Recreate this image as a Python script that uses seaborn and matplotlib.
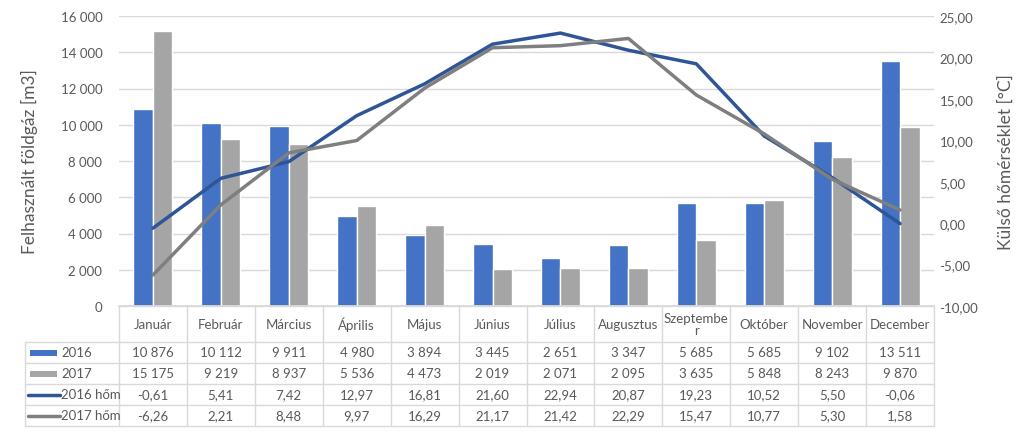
import numpy as np
import pandas as pd
import matplotlib
matplotlib.use("Agg")
import matplotlib.pyplot as plt
import matplotlib.transforms as mtrans
from matplotlib.lines import Line2D
from matplotlib.patches import Rectangle
import seaborn as sns

months = ["Január", "Február", "Március", "Április", "Május", "Június", "Július",
          "Augusztus", "Szeptember", "Október", "November", "December"]
gas_2016 = [10876, 10112, 9911, 4980, 3894, 3445, 2651, 3347, 5685, 5685, 9102, 13511]
gas_2017 = [15175, 9219, 8937, 5536, 4473, 2019, 2071, 2095, 3635, 5848, 8243, 9870]
temp_2016 = [-0.61, 5.41, 7.42, 12.97, 16.81, 21.60, 22.94, 20.87, 19.23, 10.52, 5.50, -0.06]
temp_2017 = [-6.26, 2.21, 8.48, 9.97, 16.29, 21.17, 21.42, 22.29, 15.47, 10.77, 5.30, 1.58]
series_names = ["2016", "2017", "2016 hőm", "2017 hőm"]

C_B16 = "#4472C4"
C_B17 = "#A5A5A5"
C_L16 = "#2F5597"
C_L17 = "#7F7F7F"
TXT = "#595959"
GRID = "#D9D9D9"
FS = 9.5

sns.set_theme(style="white")
plt.rcParams["font.family"] = ["Lato", "DejaVu Sans"]

W, H = 1024, 435
fig = plt.figure(figsize=(W / 100, H / 100), dpi=100)
L, R, T, B = 119, 934, 17, 307
ax = fig.add_axes([L / W, 1 - B / H, (R - L) / W, (B - T) / H])

df = pd.DataFrame({
    "month": months * 2,
    "value": gas_2016 + gas_2017,
    "year": [series_names[0]] * 12 + [series_names[1]] * 12,
})
sns.barplot(data=df, x="month", y="value", hue="year", order=months,
            palette=[C_B16, C_B17], saturation=1, width=0.575, ax=ax, legend=False)
ax.set_xlim(-0.5, 11.5)
ax.set_ylim(0, 16000)
ax.set_yticks(np.arange(0, 16001, 2000))
ax.set_yticklabels([f"{v:,}".replace(",", " ") for v in range(0, 16001, 2000)])
ax.yaxis.grid(True, color=GRID, lw=1)
ax.set_axisbelow(True)
ax.set_xticks([])
ax.set_xlabel("")
ax.set_ylabel("Felhasznált földgáz [m3]", fontsize=12.5, color=TXT, labelpad=16)
ax.tick_params(axis="y", length=0, pad=12, labelsize=FS, labelcolor=TXT)
for s in ["left", "right", "top"]:
    ax.spines[s].set_visible(False)
ax.spines["bottom"].set_color(GRID)

ax2 = ax.twinx()
x_idx = np.arange(len(months))
sns.lineplot(x=x_idx, y=temp_2016, color=C_L16, lw=2.5, ax=ax2)
sns.lineplot(x=x_idx, y=temp_2017, color=C_L17, lw=2.5, ax=ax2)
ax2.set_ylim(-10, 25)
ax2.set_yticks(np.arange(-10, 26, 5))
ax2.set_yticklabels([f"{v:.2f}".replace(".", ",") for v in np.arange(-10, 26, 5)])
ax2.tick_params(axis="y", length=0, pad=4, labelsize=FS, labelcolor=TXT)
ax2.set_ylabel("Külső hőmérséklet [°C]", fontsize=12.5, color=TXT, labelpad=14)
for s in ["left", "right", "top", "bottom"]:
    ax2.spines[s].set_visible(False)
ax2.set_xlim(-0.5, 11.5)
ax2.grid(False)

# ---- data table ----
tr = mtrans.blended_transform_factory(ax.transData, fig.transFigure)
def fy(py):
    return 1 - py / H
unit = (R - L) / 12.0
x_leg = -0.5 - (L - 25) / unit
rows_y = [307, 343, 364, 385, 406, 427]

def hline(x0, x1, py):
    ax.add_line(Line2D([x0, x1], [fy(py), fy(py)], transform=tr, color=GRID, lw=1, clip_on=False))
def vline(x, py0, py1):
    ax.add_line(Line2D([x, x], [fy(py0), fy(py1)], transform=tr, color=GRID, lw=1, clip_on=False))

hline(-0.5, 11.5, rows_y[0])
for py in rows_y[1:]:
    hline(x_leg, 11.5, py)
for i in range(13):
    vline(-0.5 + i, rows_y[0], rows_y[-1])
vline(x_leg, rows_y[1], rows_y[-1])

def disp_month(m):
    return m[:9] + "\n" + m[9:] if len(m) > 9 else m

for i, m in enumerate(months):
    ax.text(i, fy((rows_y[0] + rows_y[1]) / 2), disp_month(m), transform=tr,
            ha="center", va="center", fontsize=FS, color=TXT, linespacing=1.0, clip_on=False)

fmt_gas = lambda v: f"{v:,}".replace(",", " ")
fmt_t = lambda v: f"{v:.2f}".replace(".", ",")
table_rows = [[fmt_gas(v) for v in gas_2016], [fmt_gas(v) for v in gas_2017],
              [fmt_t(v) for v in temp_2016], [fmt_t(v) for v in temp_2017]]
for r, vals in enumerate(table_rows):
    yc = fy((rows_y[r + 1] + rows_y[r + 2]) / 2)
    for i, s in enumerate(vals):
        ax.text(i, yc, s, transform=tr, ha="center", va="center", fontsize=FS,
                color=TXT, clip_on=False)

# legend keys in first column (figure pixel coordinates)
ftr = fig.transFigure
for r, name in enumerate(series_names):
    yc_px = (rows_y[r + 1] + rows_y[r + 2]) / 2
    if r < 2:
        col = [C_B16, C_B17][r]
        fig.add_artist(Rectangle((30 / W, fy(yc_px + 3)), 27 / W, 6 / H,
                                 transform=ftr, color=col, lw=0))
    else:
        col = [C_L16, C_L17][r - 2]
        fig.add_artist(Line2D([28 / W, 60 / W], [fy(yc_px), fy(yc_px)],
                              transform=ftr, color=col, lw=2.5, solid_capstyle="round"))
    fig.text(61 / W, fy(yc_px), name, ha="left", va="center", fontsize=FS, color=TXT)

fig.savefig("out.png", dpi=100)
